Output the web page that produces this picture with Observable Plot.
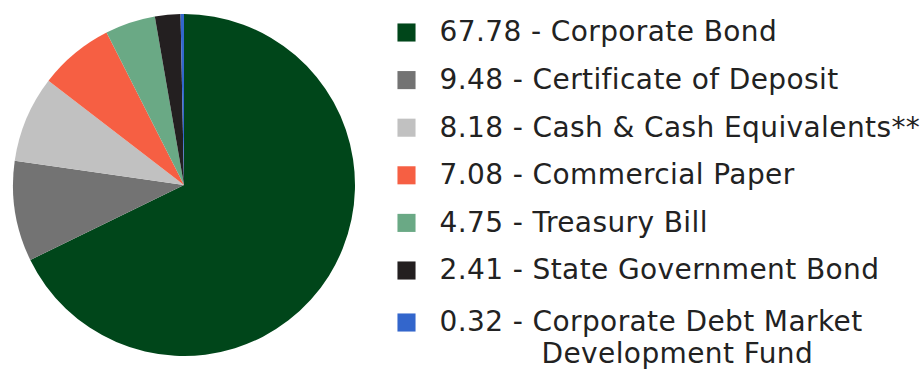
<!DOCTYPE html>
<html>
<head>
<meta charset="utf-8">
<script src="https://cdn.jsdelivr.net/npm/d3@7"></script>
<script src="https://cdn.jsdelivr.net/npm/@observablehq/plot@0.6"></script>
<style>
  html, body { margin: 0; padding: 0; background: #fff; }
  #chart svg { display: block; }
  #chart svg text { letter-spacing: 0.4px; }
</style>
</head>
<body>
<div id="chart"></div>
<script>
const categories = [
  "Corporate Bond",
  "Certificate of Deposit",
  "Cash & Cash Equivalents**",
  "Commercial Paper",
  "Treasury Bill",
  "State Government Bond",
  "Corporate Debt Market Development Fund"
];
const values = [67.78, 9.48, 8.18, 7.08, 4.75, 2.41, 0.32];
const valueLabels = ["67.78", "9.48", "8.18", "7.08", "4.75", "2.41", "0.32"];
const colors = ["#00461a", "#737373", "#c1c1c1", "#f65f43", "#6aa985", "#231f20", "#3366cc"];

const rows = categories.map((c, i) => ({
  i, category: c, value: values[i],
  label: i === 6 ? valueLabels[i] + " - Corporate Debt Market" : valueLabels[i] + " - " + c
}));

const cx = 184, cy = 185, R = 171;

function pieMark(index, scales, vals, dimensions) {
  const color = scales.color || ((c) => colors[categories.indexOf(c)]);
  const arcs = d3.pie().sort(null).value(d => d.value)(rows);
  const arc = d3.arc().innerRadius(0).outerRadius(R);
  const g = d3.create("svg:g").attr("transform", `translate(${cx},${cy})`);
  g.selectAll("path").data(arcs).join("path")
    .attr("d", arc)
    .attr("fill", d => color(d.data.category));
  return g.node();
}

const font = "'DejaVu Sans', sans-serif";

const chart = Plot.plot({
  width: 924,
  height: 382,
  margin: 0,
  style: { fontFamily: font, background: "#fff" },
  x: { type: "linear", domain: [0, 924], range: [0, 924], axis: null },
  y: { type: "linear", domain: [0, 5, 6], range: [32, 270, 322], axis: null },
  color: { domain: categories, range: colors },
  marks: [
    pieMark,
    Plot.dot(rows, { x: () => 406, y: "i", fill: "category", symbol: "square", r: 10.2, stroke: null }),
    Plot.text(rows, { x: () => 439, y: "i", text: "label", textAnchor: "start", fontSize: 28, fill: "#222", lineAnchor: "middle" }),
    Plot.text(["Development Fund"], { x: () => 541, y: () => 6, dy: 32, text: d => d, textAnchor: "start", fontSize: 28, fill: "#222", lineAnchor: "middle" })
  ]
});
document.getElementById("chart").appendChild(chart);
</script>
</body>
</html>
